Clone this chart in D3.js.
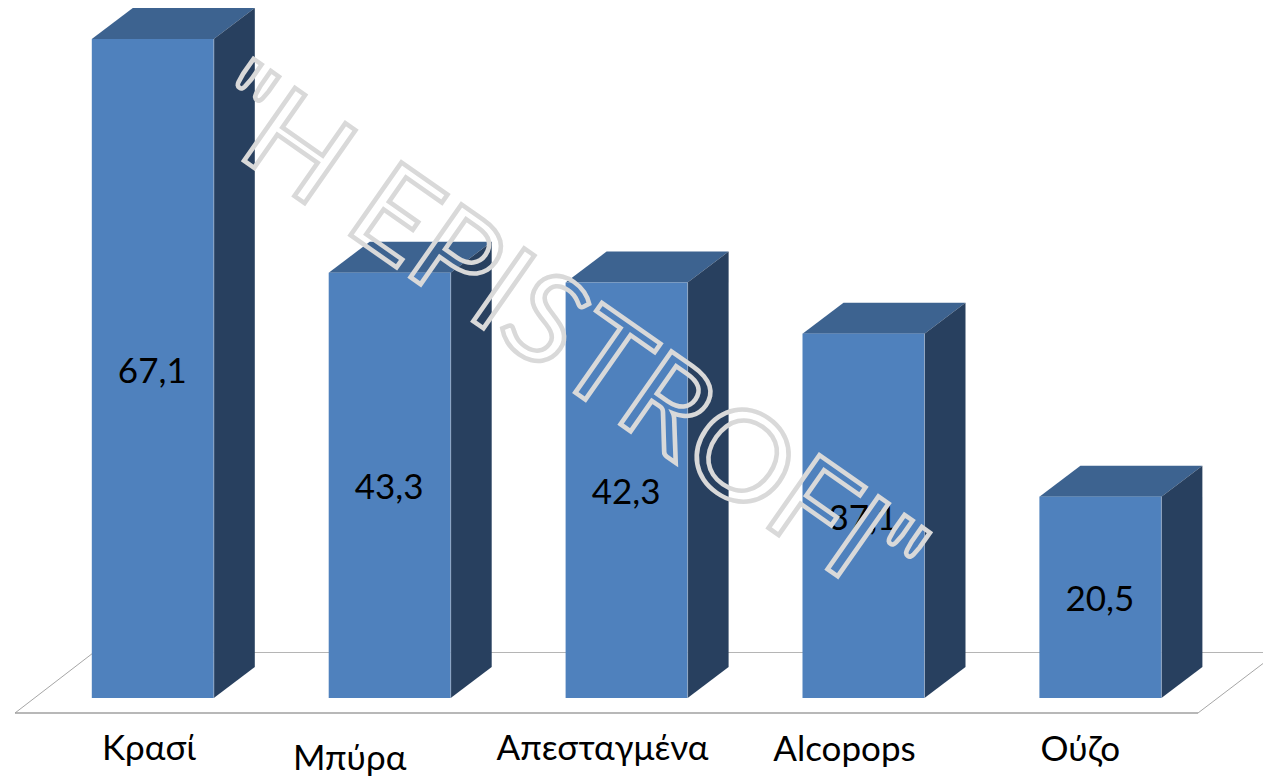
<!DOCTYPE html>
<html><head><meta charset="utf-8">
<script src="https://cdnjs.cloudflare.com/ajax/libs/d3/7.9.0/d3.min.js"></script>
<style>html,body{margin:0;padding:0;background:#fff;overflow:hidden}svg{display:block}</style>
</head><body><svg id="c" width="1263" height="778"></svg>
<script>
const categories = ["Κρασί","Μπύρα","Απεσταγμένα","Alcopops","Ούζο"];
const values = [67.1,43.3,42.3,37.1,20.5];
const valueLabels = ["67,1","43,3","42,3","37,1","20,5"];
const watermark = "\"H EPISTROFI\"";

const FONT = "Lato, 'Open Sans', 'Noto Sans', sans-serif";
const base=698, top0=39, dx=41, dy=31, bw=122;
const svg=d3.select("#c");
const x=d3.scalePoint().domain(categories).range([152.8,1100.4]);
const y=d3.scaleLinear().domain([0,67.1]).range([base,top0]);
const line=d3.line();
// floor
const g0=svg.append("g").attr("fill","none");
g0.append("path").attr("d",line([[93,652.5],[1263,652.5]])).attr("stroke","#b5b5b5").attr("stroke-width",1.2);
g0.append("path").attr("d",line([[15,713],[93,653]])).attr("stroke","#a6a6a6").attr("stroke-width",1);
g0.append("path").attr("d",line([[15,713],[1198,713]])).attr("stroke","#a0a0a0").attr("stroke-width",1.3);
g0.append("path").attr("d",line([[1198,713],[1263,663.5]])).attr("stroke","#a6a6a6").attr("stroke-width",1);
// bars
const bars=svg.selectAll("g.bar").data(categories).join("g").attr("class","bar");
bars.each(function(c,i){
  const g=d3.select(this), l=x(c)-bw/2, r=l+bw, t=y(values[i]);
  g.append("path").attr("fill","#3d6390").attr("d",line([[l,t],[l+dx,t-dy],[r+dx,t-dy],[r,t]])+"Z");
  g.append("path").attr("fill","#28405f").attr("d",line([[r,t],[r+dx,t-dy],[r+dx,base-dy],[r,base]])+"Z");
  g.append("rect").attr("fill","#4f81bd").attr("x",l).attr("y",t).attr("width",bw).attr("height",base-t);
  g.append("path").attr("fill","none").attr("stroke","#9fb2c8").attr("stroke-width",.7).attr("d",line([[r,t],[r,base]]));
  g.append("text").attr("x",x(c)-0.5).attr("y",(t+base)/2+14).attr("text-anchor","middle")
    .attr("font-family",FONT).attr("font-size",35).attr("fill","#000").text(valueLabels[i]);
});
// category labels (hand-placed in the reference)
const labelShift=[-4,-40,-24,-19,-20];
const labelBase=[760,770,760,761,761];
svg.selectAll("text.cat").data(categories).join("text").attr("class","cat")
  .attr("x",(c,i)=>x(c)+labelShift[i]).attr("y",(c,i)=>labelBase[i])
  .attr("text-anchor","middle").attr("font-family",FONT).attr("font-size",35).attr("fill","#000").text(c=>c);
// watermark
svg.append("text").attr("transform","translate(196,127) rotate(35)")
  .attr("font-family",FONT).attr("font-size",124).attr("fill","none")
  .attr("stroke","#d9d9d9").attr("stroke-width",4.5).attr("stroke-linejoin","miter")
  .attr("textLength",842).attr("lengthAdjust","spacingAndGlyphs")
  .text(watermark);
</script></body></html>
